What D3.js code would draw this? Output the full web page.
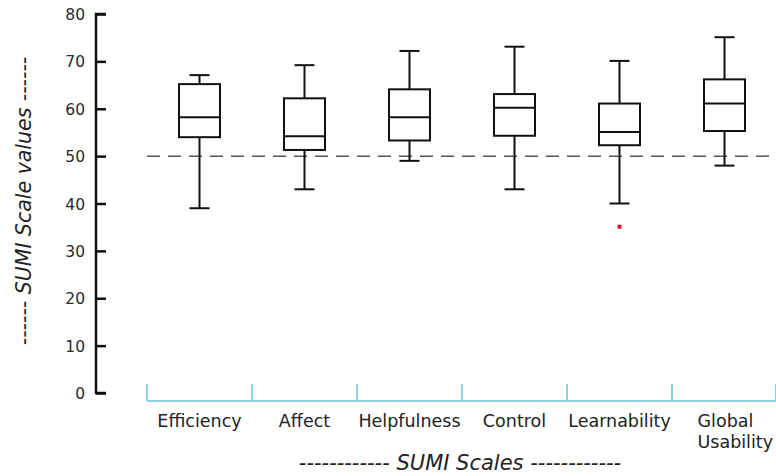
<!DOCTYPE html>
<html>
<head>
<meta charset="utf-8">
<script src="https://cdn.jsdelivr.net/npm/d3@7"></script>
<style>
  body { margin: 0; background: #fff; }
  svg { display: block; font-family: "DejaVu Sans", sans-serif; }
</style>
</head>
<body>
<svg id="chart"></svg>
<script>
// SUMI scale box plots
const categories = ["Efficiency", "Affect", "Helpfulness", "Control", "Learnability", "Global Usability"]
const whiskerLow  = [39, 43, 49, 43, 40, 48]
const q1          = [54, 51.3, 53.3, 54.3, 52.3, 55.3]
const median      = [58.2, 54.2, 58.2, 60.2, 55.1, 61.1]
const q3          = [65.2, 62.2, 64.1, 63.1, 61.1, 66.2]
const whiskerHigh = [67.1, 69.2, 72.2, 73.1, 70.1, 75.1]
const outliers    = [{cat: "Learnability", value: 35.1}]
const yTicks      = [0, 10, 20, 30, 40, 50, 60, 70, 80]
const refValue    = 50

const width = 776, height = 476

const svg = d3.select('#chart')
    .attr('width', width)
    .attr('height', height)

const x = d3.scaleBand()
    .domain(categories)
    .range([147, 777])

const y = d3.scaleLinear()
    .domain([0, 80])
    .range([393, 14])

const boxW = 41, capW = 20

// y axis
const yAxis = svg.append('g')
    .attr('transform', 'translate(96,0)')
    .call(d3.axisRight(y).tickValues(yTicks).tickSize(10).tickFormat(d3.format('d')))
yAxis.select('.domain').attr('d', `M10,${y(80)}H0V${y(0)}H10`).attr('stroke', '#111').attr('stroke-width', 2.5)
yAxis.selectAll('.tick line').attr('stroke', '#111').attr('stroke-width', 2.5)
yAxis.selectAll('.tick text')
    .attr('x', -11)
    .attr('dy', '0.36em')
    .attr('text-anchor', 'end')
    .attr('fill', '#2a2a2a')
    .attr('font-size', 15.5)
    .attr('font-family', '"DejaVu Sans", sans-serif')

// x axis (light blue, ticks upward)
const xAxisG = svg.append('g')
    .attr('transform', `translate(0,${y(0) + 8})`)
xAxisG.append('line')
    .attr('x1', x.range()[0]).attr('x2', x.range()[1])
    .attr('stroke', '#8fd0e6').attr('stroke-width', 2)
xAxisG.selectAll('.xt')
    .data(categories.concat(['end']))
    .join('line')
    .attr('class', 'xt')
    .attr('x1', d => d === 'end' ? x.range()[1] - 1 : x(d))
    .attr('x2', d => d === 'end' ? x.range()[1] - 1 : x(d))
    .attr('y1', 0).attr('y2', -17)
    .attr('stroke', '#8fd0e6').attr('stroke-width', 2)

// category labels
const labels = svg.append('g')
    .attr('fill', '#222')
    .attr('font-size', 17.5)
categories.forEach(c => {
    const cx = x(c) + x.bandwidth() / 2
    if (c === "Global Usability") {
        const t = labels.append('text').attr('x', cx - 27).attr('y', 427)
        t.append('tspan').attr('x', cx - 27).text('Global')
        t.append('tspan').attr('x', cx - 27).attr('dy', 21).text('Usability')
    } else {
        labels.append('text').attr('x', cx).attr('y', 427).attr('text-anchor', 'middle').text(c)
    }
})

// reference line at 50
svg.append('line')
    .attr('x1', 147).attr('x2', 772)
    .attr('y1', y(refValue)).attr('y2', y(refValue))
    .attr('stroke', '#555').attr('stroke-width', 1.5)
    .attr('stroke-dasharray', '13,8')

// boxes
const boxes = svg.append('g')
    .attr('stroke', '#111')
    .attr('stroke-width', 2)
    .attr('fill', 'none')
categories.forEach((c, i) => {
    const cx = x(c) + x.bandwidth() / 2
    const g = boxes.append('g')
    g.append('line').attr('x1', cx).attr('x2', cx).attr('y1', y(whiskerHigh[i])).attr('y2', y(q3[i]))
    g.append('line').attr('x1', cx).attr('x2', cx).attr('y1', y(q1[i])).attr('y2', y(whiskerLow[i]))
    g.append('line').attr('x1', cx - capW / 2).attr('x2', cx + capW / 2).attr('y1', y(whiskerHigh[i])).attr('y2', y(whiskerHigh[i]))
    g.append('line').attr('x1', cx - capW / 2).attr('x2', cx + capW / 2).attr('y1', y(whiskerLow[i])).attr('y2', y(whiskerLow[i]))
    g.append('rect')
        .attr('x', cx - boxW / 2).attr('width', boxW)
        .attr('y', y(q3[i])).attr('height', y(q1[i]) - y(q3[i]))
        .attr('fill', '#fff')
    g.append('line').attr('x1', cx - boxW / 2).attr('x2', cx + boxW / 2 + 1).attr('y1', y(median[i])).attr('y2', y(median[i]))
})

// outliers
svg.selectAll('.outlier')
    .data(outliers)
    .join('rect')
    .attr('class', 'outlier')
    .attr('x', d => x(d.cat) + x.bandwidth() / 2 - 2)
    .attr('y', d => y(d.value) - 2)
    .attr('width', 4).attr('height', 4)
    .attr('fill', '#e8102a')

// axis titles
svg.append('text')
    .attr('transform', 'translate(31,201) rotate(-90)')
    .attr('text-anchor', 'middle')
    .attr('font-style', 'italic')
    .attr('font-size', 20.5)
    .attr('fill', '#222')
    .text('------ SUMI Scale values ------')

svg.append('text')
    .attr('x', 460).attr('y', 470)
    .attr('text-anchor', 'middle')
    .attr('font-style', 'italic')
    .attr('font-size', 21)
    .attr('fill', '#222')
    .text('------------ SUMI Scales ------------')
</script>
</body>
</html>
